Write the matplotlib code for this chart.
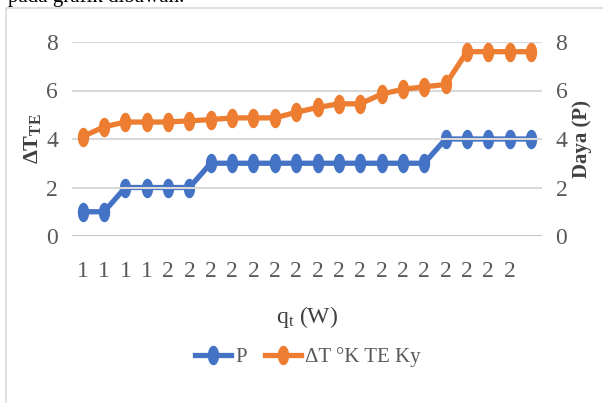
import numpy as np
import matplotlib
matplotlib.use("Agg")
import matplotlib.pyplot as plt
from matplotlib.path import Path
from matplotlib.patches import Rectangle
from matplotlib.lines import Line2D

plt.rcParams["font.family"] = ["Liberation Serif", "DejaVu Serif"]
plt.rcParams["mathtext.fontset"] = "custom"
plt.rcParams["mathtext.rm"] = "Liberation Serif"
plt.rcParams["mathtext.it"] = "Liberation Serif:italic"
plt.rcParams["mathtext.bf"] = "Liberation Serif:bold"

# Category labels along the x axis (q_t in W, rounded)
categories = ["1", "1", "1", "1", "2", "2", "2", "2", "2", "2", "2",
              "2", "2", "2", "2", "2", "2", "2", "2", "2", "2", ""]
# Power output (secondary axis)
p_values = [1, 1, 2, 2, 2, 2, 3, 3, 3, 3, 3, 3, 3, 3, 3, 3, 3, 4, 4, 4, 4, 4]
# Temperature difference across the TE module
dt_values = [4.1, 4.5, 4.7, 4.7, 4.7, 4.75, 4.8, 4.87, 4.87, 4.87, 5.1,
             5.3, 5.45, 5.45, 5.85, 6.05, 6.15, 6.25, 7.6, 7.6, 7.6, 7.6]
y_ticks = [0, 2, 4, 6, 8]

BLUE = "#4472C4"
ORANGE = "#ED7D31"
TICK_C = "#595959"
TITLE_C = "#404040"

# tall, narrow elliptical marker
t = np.linspace(0, 2 * np.pi, 40)
ell = Path(np.column_stack([0.55 * np.cos(t), np.sin(t)]), closed=True)

W, H = 603, 403
fig = plt.figure(figsize=(W / 100, H / 100), dpi=100)

# chart frame
fig.patches.append(Rectangle((6 / W, -0.05), 1.2, (H - 8) / H + 0.05,
                             transform=fig.transFigure, fill=False,
                             edgecolor="#D9D9D9", linewidth=1.2))
fig.text(8 / W, (H - 2) / H, "pada grafik dibawah.", fontsize=15,
         color="black", va="baseline", ha="left")

ax = fig.add_axes([72 / W, (H - 236) / H, (541.7 - 72) / W, (236 - 42) / H])
ax2 = ax.twinx()

x = np.arange(len(categories))
ax2.plot(x, p_values, color=BLUE, lw=3.8, marker=ell, ms=13,
         solid_capstyle="round", zorder=3)
ax.plot(x, dt_values, color=ORANGE, lw=3.8, marker=ell, ms=13,
        solid_capstyle="round", zorder=3)

for a in (ax, ax2):
    a.set_ylim(0, 8)
    a.set_yticks(y_ticks)
    a.set_xlim(-0.5, len(categories) - 0.5)
    for s in a.spines.values():
        s.set_visible(False)
    a.tick_params(axis="y", length=0, labelsize=17, labelcolor=TICK_C, pad=10)

ax.set_zorder(ax2.get_zorder() + 1)
ax.patch.set_visible(False)

ax.yaxis.grid(True, color="#D9D9D9", lw=1.5)
ax.set_axisbelow(True)
ax.axhline(0, color="#BFBFBF", lw=1.8, zorder=1)

ax.set_xticks(x)
ax.set_xticklabels(categories)
ax.tick_params(axis="x", length=0, labelsize=17, labelcolor=TICK_C, pad=18)

ax.set_ylabel(r"ΔT$_{\mathbf{TE}}$", fontsize=16, fontweight="bold",
              color=TITLE_C, labelpad=2)
ax2.set_ylabel("Daya (P)", fontsize=15, fontweight="bold", color=TITLE_C,
               labelpad=3)
ax.set_xlabel(r"q$_\mathregular{t}$ (W)", fontsize=17, color=TITLE_C,
              labelpad=16)

handles = [Line2D([], [], color=BLUE, lw=3.8, marker=ell, ms=13),
           Line2D([], [], color=ORANGE, lw=3.8, marker=ell, ms=13)]
fig.legend(handles, ["P", "ΔT °K TE Ky"], loc="center",
           bbox_to_anchor=(308 / W, (H - 357) / H), ncol=2, frameon=False,
           fontsize=15, labelcolor=TICK_C, handlelength=1.7,
           handletextpad=0.2, columnspacing=0.9)

fig.savefig("out.png", dpi=100)
